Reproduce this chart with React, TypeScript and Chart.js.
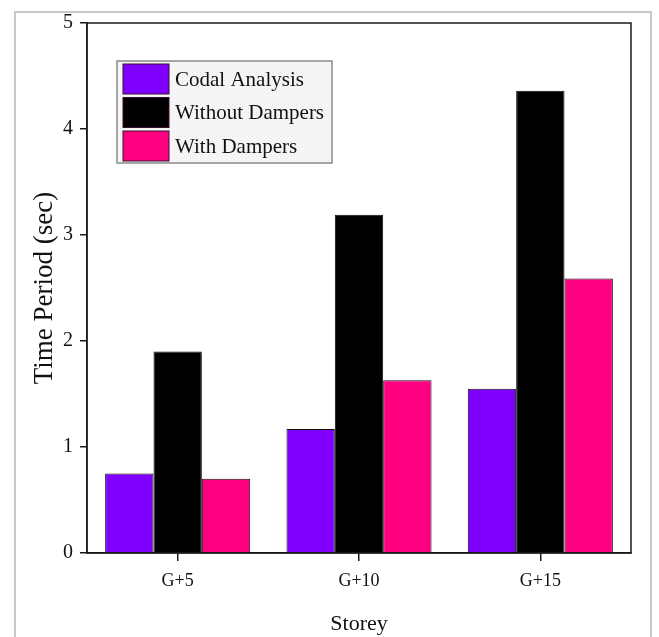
import React, { useEffect, useRef } from "react";
import { Chart, registerables } from "chart.js";

Chart.register(...registerables);

const categories = ["G+5", "G+10", "G+15"];
const seriesNames = ["Codal Analysis", "Without Dampers", "With Dampers"];
const codalAnalysis = [0.75, 1.17, 1.55];
const withoutDampers = [1.9, 3.19, 4.36];
const withDampers = [0.7, 1.63, 2.59];
const seriesColors = ["#8000ff", "#000000", "#ff0080"];
const yMin = 0;
const yMax = 5;
const yStep = 1;

const FONT = "'Liberation Serif', 'Times New Roman', serif";

const framePlugin = {
  id: "frame",
  afterDatasetsDraw(chart: any) {
    const { ctx, chartArea } = chart;
    ctx.save();
    ctx.strokeStyle = "#1a1a1a";
    ctx.lineWidth = 1.5;
    ctx.strokeRect(chartArea.left, chartArea.top, chartArea.right - chartArea.left, chartArea.bottom - chartArea.top);
    ctx.restore();
  },
};

const legendPlugin = {
  id: "boxLegend",
  afterDraw(chart: any) {
    const { ctx, chartArea } = chart;
    const x = chartArea.left + 30;
    const y = chartArea.top + 38;
    const w = 215;
    const h = 102;
    ctx.save();
    const pc = document.createElement("canvas");
    pc.width = 4;
    pc.height = 4;
    const p = pc.getContext("2d")!;
    p.fillStyle = "#f7f7f7";
    p.fillRect(0, 0, 4, 4);
    p.fillStyle = "#e6e6e6";
    p.fillRect(0, 0, 1, 1);
    p.fillRect(2, 2, 1, 1);
    ctx.fillStyle = ctx.createPattern(pc, "repeat") || "#f3f3f3";
    ctx.fillRect(x, y, w, h);
    ctx.strokeStyle = "#8a8a8a";
    ctx.lineWidth = 1.5;
    ctx.strokeRect(x, y, w, h);
    const sw = 46;
    const sh = 30;
    ctx.font = `21px ${FONT}`;
    ctx.textBaseline = "middle";
    ctx.textAlign = "left";
    chart.data.datasets.forEach((ds: any, i: number) => {
      const sy = y + 3 + i * 33.5;
      ctx.fillStyle = ds.backgroundColor;
      ctx.fillRect(x + 6, sy, sw, sh);
      ctx.strokeStyle = "#3a1030";
      ctx.lineWidth = 1;
      ctx.strokeRect(x + 6, sy, sw, sh);
      ctx.fillStyle = "#111";
      ctx.fillText(ds.label, x + 58, sy + sh / 2 + 1);
    });
    ctx.restore();
  },
};

export default function App() {
  const ref = useRef<HTMLCanvasElement | null>(null);

  useEffect(() => {
    if (!ref.current) return;
    const values = [codalAnalysis, withoutDampers, withDampers];
    const chart = new Chart(ref.current, {
      type: "bar",
      data: {
        labels: categories,
        datasets: seriesNames.map((name, i) => ({
          label: name,
          data: values[i],
          backgroundColor: seriesColors[i],
          borderColor: "#111",
          borderWidth: 1,
          barPercentage: 1,
          categoryPercentage: 0.8,
        })),
      },
      options: {
        responsive: false,
        animation: false,
        layout: { padding: { top: 23, right: 28, left: 0, bottom: 0 } },
        plugins: {
          legend: { display: false },
          tooltip: { enabled: false },
        },
        scales: {
          x: {
            afterFit: (s: any) => {
              s.height = 84;
            },
            grid: {
              display: true,
              drawOnChartArea: false,
              drawTicks: true,
              tickLength: 8,
              offset: false,
              color: "#1a1a1a",
              lineWidth: 1.5,
            },
            border: { display: true, color: "#1a1a1a", width: 1.5 },
            ticks: {
              color: "#111",
              font: { family: FONT, size: 18 },
              padding: 9,
            },
            title: {
              display: true,
              text: "Storey",
              color: "#111",
              font: { family: FONT, size: 22 },
              padding: { top: 0, bottom: 0 },
            },
          },
          y: {
            min: yMin,
            max: yMax,
            afterFit: (s: any) => {
              s.width = 87;
            },
            grid: {
              display: true,
              drawOnChartArea: false,
              drawTicks: true,
              tickLength: 7,
              color: "#1a1a1a",
              lineWidth: 1.5,
            },
            border: { display: true, color: "#1a1a1a", width: 1.5 },
            ticks: {
              stepSize: yStep,
              color: "#111",
              font: { family: FONT, size: 20 },
              padding: 7,
            },
            title: {
              display: true,
              text: "Time Period (sec)",
              color: "#111",
              font: { family: FONT, size: 27 },
              padding: { top: 29, bottom: 0 },
            },
          },
        },
      },
      plugins: [framePlugin, legendPlugin],
    });
    return () => chart.destroy();
  }, []);

  return (
    <div style={{ position: "fixed", left: 0, top: 0, width: 659, height: 637, background: "#fff", overflow: "hidden" }}>
      <div
        style={{
          position: "absolute",
          left: 14,
          top: 11,
          width: 638,
          height: 650,
          border: "2px solid #c8c8c8",
          boxSizing: "border-box",
        }}
      />
      <canvas ref={ref} width={659} height={637} style={{ position: "absolute", left: 0, top: 0 }} />
    </div>
  );
}
